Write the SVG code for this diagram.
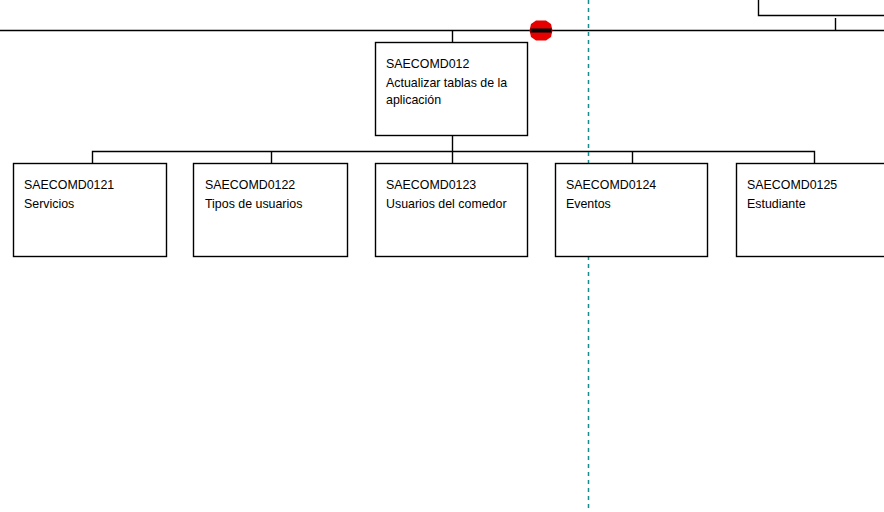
<svg xmlns="http://www.w3.org/2000/svg" width="884" height="512" viewBox="0 0 884 512">
  <style>
    .box { fill: #fff; stroke: #000; stroke-width: 1.4; }
    .wire { fill: none; stroke: #000; stroke-width: 1.4; }
    .lbl { font-family: "Liberation Sans", Arial, sans-serif; font-size: 12.4px; fill: #000; }
    .guide { stroke: #1a8c8c; stroke-width: 1.5; stroke-dasharray: 4 4; }
  </style>
  <rect width="884" height="512" fill="#fff"/>

  <!-- connectors -->
  <g id="connectors">
    <path class="wire" d="M0 30.5 H884"/>
    <path class="wire" d="M758.5 0 V15.5 H884"/>
    <path class="wire" d="M835.5 18 V30.5"/>
    <path class="wire" d="M452.5 30.5 V42"/>
    <path class="wire" d="M452.5 136 V151.5"/>
    <path class="wire" d="M92.5 163 V151.5 H814.5 V163"/>
    <path class="wire" d="M271.5 151.5 V163"/>
    <path class="wire" d="M452.5 151.5 V163"/>
    <path class="wire" d="M632.5 151.5 V163"/>
  </g>

  <!-- breakpoint marker -->
  <g id="marker">
    <polygon points="536,20.5 546,20.5 551,24 552.5,30.5 551,37 546,40.5 536,40.5 531,37 529.5,30.5 531,24" fill="#e60000"/>
    <rect x="530.5" y="28.5" width="21" height="4" fill="#000"/>
  </g>

  <!-- vertical guide -->
  <line class="guide" x1="588.5" y1="0" x2="588.5" y2="512"/>

  <g id="n012">
    <rect class="box" x="375.5" y="42.5" width="152" height="93"/>
    <text class="lbl" x="386" y="68">SAECOMD012</text>
    <text class="lbl" x="386" y="87">Actualizar tablas de la</text>
    <text class="lbl" x="386" y="104">aplicación</text>
  </g>

  <g id="n0121">
    <rect class="box" x="13.5" y="163.5" width="153" height="93"/>
    <text class="lbl" x="24" y="189">SAECOMD0121</text>
    <text class="lbl" x="24" y="208">Servicios</text>
  </g>

  <g id="n0122">
    <rect class="box" x="193.5" y="163.5" width="154" height="93"/>
    <text class="lbl" x="205" y="189">SAECOMD0122</text>
    <text class="lbl" x="205" y="208">Tipos de usuarios</text>
  </g>

  <g id="n0123">
    <rect class="box" x="375.5" y="163.5" width="152" height="93"/>
    <text class="lbl" x="386" y="189">SAECOMD0123</text>
    <text class="lbl" x="386" y="208">Usuarios del comedor</text>
  </g>

  <g id="n0124">
    <rect class="box" x="555.5" y="163.5" width="152" height="93"/>
    <text class="lbl" x="566" y="189">SAECOMD0124</text>
    <text class="lbl" x="566" y="208">Eventos</text>
  </g>

  <g id="n0125">
    <rect class="box" x="736.5" y="163.5" width="156" height="93"/>
    <text class="lbl" x="747" y="189">SAECOMD0125</text>
    <text class="lbl" x="747" y="208">Estudiante</text>
  </g>
</svg>
